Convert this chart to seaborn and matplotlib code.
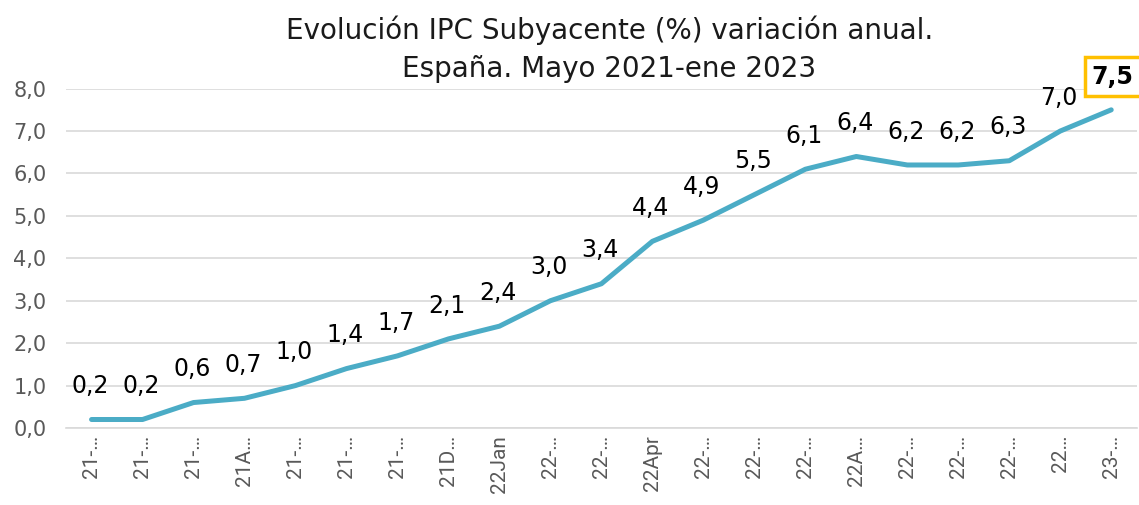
import matplotlib
matplotlib.use("Agg")
import matplotlib.pyplot as plt
import seaborn as sns
import pandas as pd

# Monthly core CPI (year-on-year %), May 2021 - Jan 2023
months = ["21-…", "21-…", "21-…", "21A…", "21-…", "21-…", "21-…", "21D…",
          "22Jan", "22-…", "22-…", "22Apr", "22-…", "22-…", "22-…", "22A…",
          "22-…", "22-…", "22-…", "22…", "23-…"]
values = [0.2, 0.2, 0.6, 0.7, 1.0, 1.4, 1.7, 2.1, 2.4, 3.0, 3.4, 4.4,
          4.9, 5.5, 6.1, 6.4, 6.2, 6.2, 6.3, 7.0, 7.5]
yticks = [0, 1, 2, 3, 4, 5, 6, 7, 8]

df = pd.DataFrame({"pos": range(len(months)), "value": values})

sns.set_theme(style="white")
plt.rcParams["font.family"] = ["DejaVu Sans"]

fig = plt.figure(figsize=(11.39, 5.05), dpi=100)
ax = fig.add_axes([0.058, 0.1525, 0.940, 0.672])

sns.lineplot(data=df, x="pos", y="value", ax=ax, color="#4BACC6",
             linewidth=3.6, solid_capstyle="round")

ax.set_xlim(-0.5, len(months) - 0.5)
ax.set_ylim(0, 8)
ax.set_yticks(yticks)
ax.set_yticklabels([f"{t:.1f}".replace(".", ",") for t in yticks],
                   color="#595959", fontsize=15)
ax.set_xticks(range(len(months)))
ax.set_xticklabels(months, rotation=90, color="#595959", fontsize=15,
                   family="Roboto")
ax.tick_params(axis="y", length=0, pad=14)
ax.tick_params(axis="x", length=0, pad=5)
ax.grid(axis="y", color="#D9D9D9", linewidth=1.2)
ax.set_axisbelow(True)
for side in ["top", "right", "left"]:
    ax.spines[side].set_visible(False)
ax.spines["bottom"].set_color("#D9D9D9")
ax.spines["bottom"].set_linewidth(1.2)
ax.set_xlabel("")
ax.set_ylabel("")

# value labels
for i, v in enumerate(values):
    txt = f"{v:.1f}".replace(".", ",")
    if i == len(values) - 1:
        ax.annotate(txt, (i, v), xytext=(1, 24), textcoords="offset points",
                    ha="center", va="center", fontsize=17, fontweight="bold",
                    color="black",
                    bbox=dict(boxstyle="square,pad=0.3", fc="white",
                              ec="#FFC000", lw=2.5))
    else:
        ax.annotate(txt, (i, v), xytext=(-1, 24), textcoords="offset points",
                    ha="center", va="center", fontsize=17, color="black")

fig.suptitle("Evolución IPC Subyacente (%) variación anual.\nEspaña. Mayo 2021-ene 2023",
             x=0.535, y=0.97, fontsize=20, color="#1a1a1a", linespacing=1.45)

fig.savefig("out.png", dpi=100)
